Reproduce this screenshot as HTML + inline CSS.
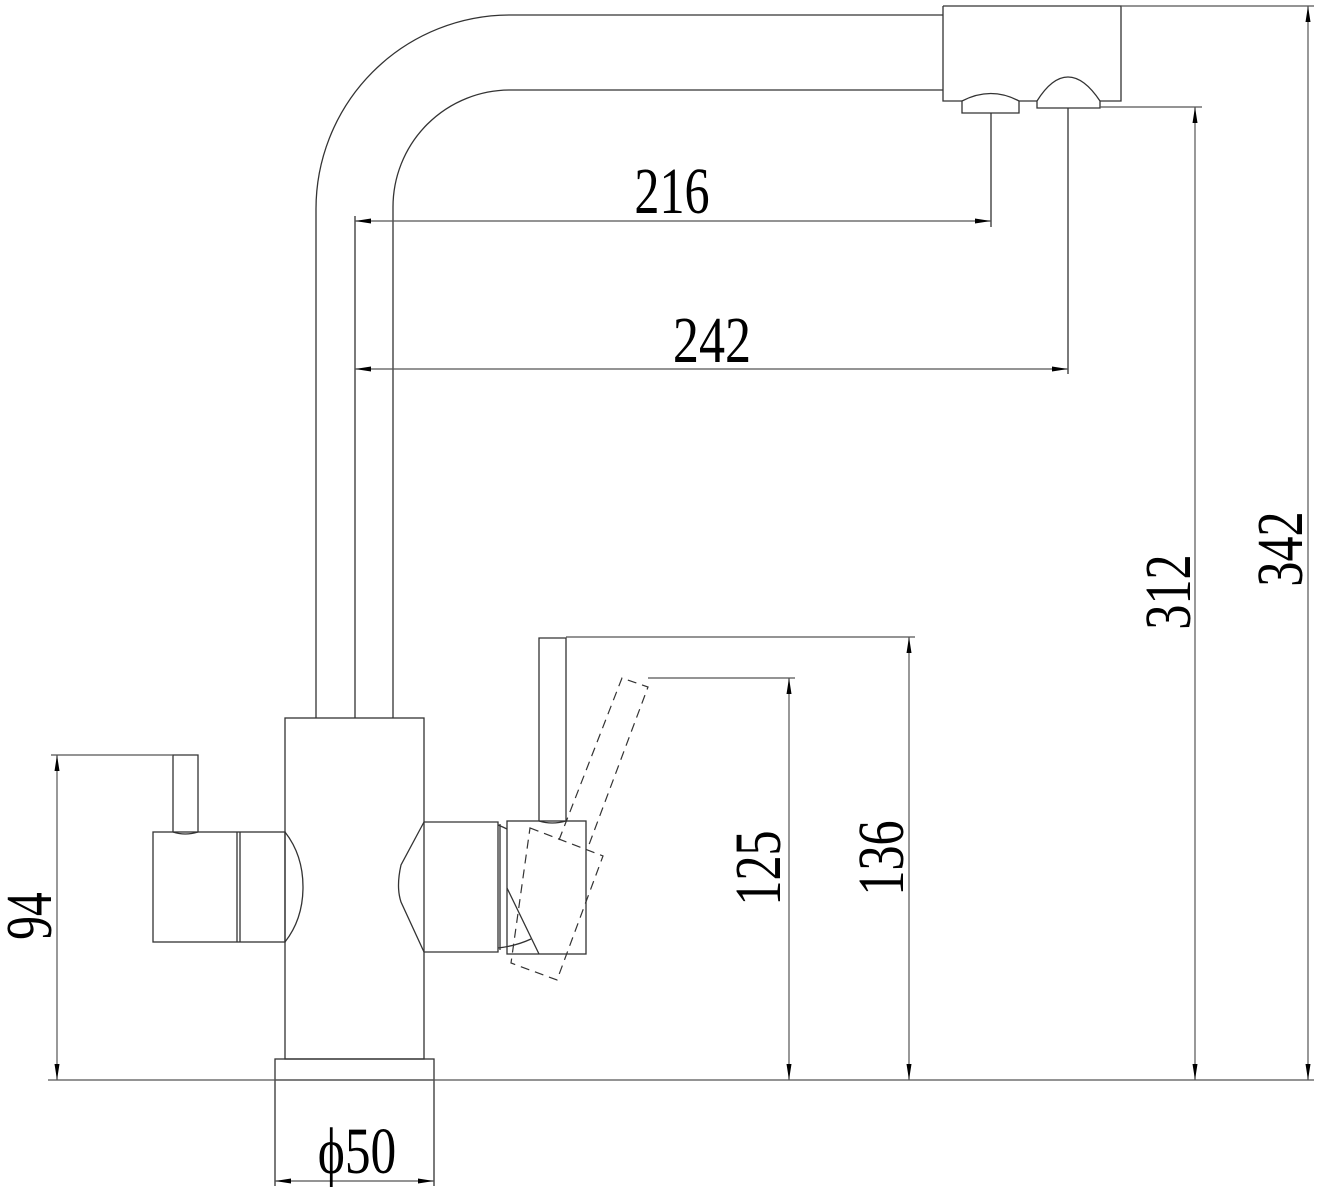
<!DOCTYPE html>
<html><head><meta charset="utf-8"><style>
html,body{margin:0;padding:0;background:#fff;}
svg{display:block;}
</style></head><body>
<svg width="1320" height="1192" viewBox="0 0 1320 1192" xmlns="http://www.w3.org/2000/svg">
<g fill="none" stroke="#333" stroke-width="1.3">
<path d="M316,718 V210 A194,194 0 0 1 510,15 H943"/>
<path d="M393,718 V207 A117,117 0 0 1 510,90 H943"/>
<line x1="355" y1="718" x2="355" y2="216"/>
<path d="M943,6 H1121 V101 H1100 M943,6 V101 H962 M1019,101 H1037"/>
<path d="M962,101 Q991,86 1019,101 V113 H962 Z"/>
<path d="M1037,101 Q1052,77 1068,77 Q1084,77 1100,101 V108 H1037 Z"/>
<line x1="991" y1="113" x2="991" y2="227"/>
<line x1="1068" y1="108" x2="1068" y2="374"/>
<rect x="285" y="718" width="139" height="341"/>
<rect x="275" y="1059" width="159" height="21"/>
<line x1="275" y1="1080" x2="275" y2="1186"/>
<line x1="434" y1="1080" x2="434" y2="1186"/>
<path d="M173,832 V755 H198 V832"/>
<path d="M173,832 Q185,836 198,832"/>
<rect x="153" y="832" width="132" height="110"/>
<line x1="237" y1="832" x2="237" y2="942"/>
<line x1="240" y1="832" x2="240" y2="942"/>
<path d="M285,832 Q303,855 303,887 Q303,919 285,942"/>
<path d="M424,822 L401,865 Q396,887 401,902 L424,952 H498 V822 Z"/>
<line x1="500" y1="824" x2="500" y2="950"/>
<path d="M498,825 Q503,827 507,829"/>
<path d="M498,948 Q516,946 531,939"/>
<rect x="507" y="821" width="79" height="133"/>
<path d="M539,821 V638 H566 V821"/>
<path d="M539,821 Q552,825 566,821"/>
<path d="M507,888 L539,954"/>
</g>
<g fill="none" stroke="#333" stroke-width="1.2" stroke-dasharray="9,6">
<path d="M530,828 L603,856 L557,980 L511,963 Z"/>
<path d="M559,840 L622,678 L648,687 L587,850"/>
</g>
<g fill="none" stroke="#555" stroke-width="1.2">
<line x1="355" y1="221" x2="991" y2="221"/>
<line x1="355" y1="369" x2="1068" y2="369"/>
<line x1="48" y1="1080" x2="1314" y2="1080"/>
<line x1="1100" y1="107" x2="1202" y2="107"/>
<line x1="1195" y1="107" x2="1195" y2="1080"/>
<line x1="1121" y1="6" x2="1314" y2="6"/>
<line x1="1308" y1="6" x2="1308" y2="1080"/>
<line x1="566" y1="637" x2="915" y2="637"/>
<line x1="909" y1="637" x2="909" y2="1080"/>
<line x1="648" y1="678" x2="795" y2="678"/>
<line x1="789" y1="678" x2="789" y2="1080"/>
<line x1="51" y1="755" x2="173" y2="755"/>
<line x1="57" y1="755" x2="57" y2="1080"/>
<line x1="275" y1="1181" x2="434" y2="1181"/>
</g>
<g fill="#000">
<path d="M355,221 l16,-2.5 v5 z"/><path d="M991,221 l-16,-2.5 v5 z"/>
<path d="M355,369 l16,-2.5 v5 z"/><path d="M1068,369 l-16,-2.5 v5 z"/>
<path d="M1195,107 l-2.5,16 h5 z"/><path d="M1195,1080 l-2.5,-16 h5 z"/>
<path d="M1308,6 l-2.5,16 h5 z"/><path d="M1308,1080 l-2.5,-16 h5 z"/>
<path d="M909,637 l-2.5,16 h5 z"/><path d="M909,1080 l-2.5,-16 h5 z"/>
<path d="M789,678 l-2.5,16 h5 z"/><path d="M789,1080 l-2.5,-16 h5 z"/>
<path d="M57,755 l-2.5,16 h5 z"/><path d="M57,1080 l-2.5,-16 h5 z"/>
<path d="M275,1181 l16,-2.5 v5 z"/><path d="M434,1181 l-16,-2.5 v5 z"/>
</g>
<g font-family="'Liberation Serif', 'DejaVu Serif', serif" font-size="66" fill="#000" text-anchor="middle">
<text transform="translate(672,213) scale(0.76,1)">216</text>
<text transform="translate(712,362) scale(0.79,1)">242</text>
<text transform="translate(357,1173) scale(0.78,1)">ϕ50</text>
<text transform="translate(51,916) rotate(-90) scale(0.72,1)">94</text>
<text transform="translate(780,868) rotate(-90) scale(0.76,1)">125</text>
<text transform="translate(903,858) rotate(-90) scale(0.76,1)">136</text>
<text transform="translate(1190,592) rotate(-90) scale(0.76,1)">312</text>
<text transform="translate(1302,549) rotate(-90) scale(0.76,1)">342</text>
</g>
</svg>
</body></html>
